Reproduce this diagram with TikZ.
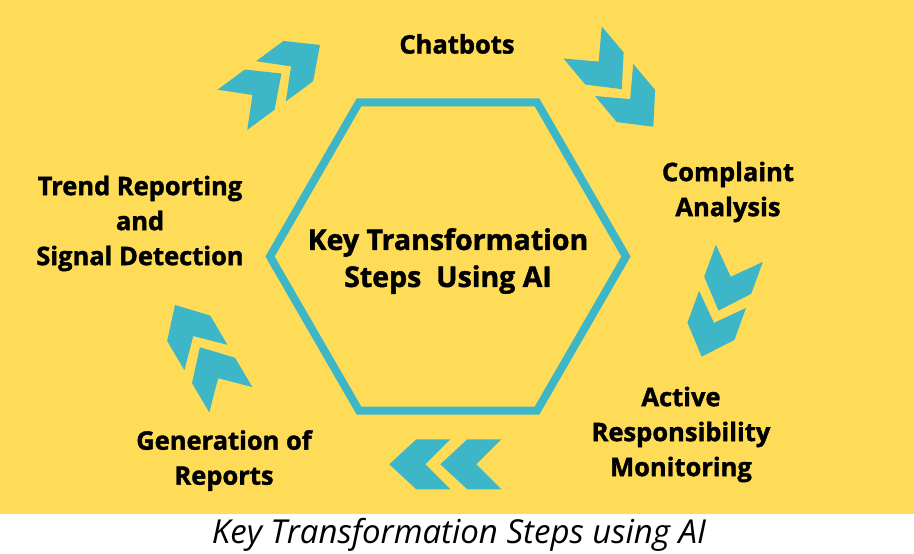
\documentclass[tikz,border=0pt]{standalone}
\usepackage{fontspec}
\setmainfont{Open Sans}
\newfontfamily\xbold{Open Sans}[BoldFeatures={FakeBold=1.5}]
\usepackage{tikz}
\usetikzlibrary{calc}
\definecolor{sunbg}{HTML}{FFDC58}
\definecolor{tealc}{HTML}{3DB6C8}
\tikzset{
  lbl/.style   ={font=\fontsize{25.5}{35}\selectfont\xbold\bfseries,align=center,inner sep=0pt},
  big/.style   ={lbl,font=\fontsize{28.5}{37}\selectfont\xbold\bfseries},
  capt/.style  ={font=\fontsize{33}{38}\selectfont\itshape,inner sep=0pt},
  hexline/.style={draw=tealc,line width=8pt,line join=miter},
  chev/.pic    ={\fill[tealc] (0,0) -- (-27,25) -- (-61,25) -- (-36,0) -- (-61,-25) -- (-27,-25) -- cycle;},
}

\begin{document}
\begin{tikzpicture}[x=1pt,y=1pt]
  \useasboundingbox (0,0) rectangle (914,554);
  \fill[sunbg] (0,40) rectangle (914,554);

  \node[big] (core) at (448,293) {Key Transformation\\Steps\ \ Using AI};
  \draw[hexline] (448,297.5) ++(0:178) -- ++(120:178) -- ++(180:178) -- ++(240:178)
       -- ++(300:178) -- ++(0:178) -- cycle;

  \node[lbl] (chat)  at (457,510) {Chatbots};
  \node[lbl] (compl) at (728,362) {Complaint\\Analysis};
  \node[lbl] (active) at (681,119.5) {Active\\Responsibility\\Monitoring};
  \node[lbl] (report) at (224,93.5) {Generation of\\Reports};
  \node[lbl] (trend) at (140,330.5) {Trend Reporting\\and\\Signal Detection};

  % chevron pairs: leading tip, direction, gap
  \foreach \x/\y/\a/\g in {320/509/36.5/48, 653.3/427.3/-50/49, 701.7/197.3/-110/49,
                           389.3/89.7/180/51, 175/249/120.5/49}{
    \pic[rotate=\a] at (\x,\y) {chev};
    \pic[rotate=\a] at ($(\x,\y)+(\a+180:\g)$) {chev};
  }

  \node[capt] (title) at (459,19) {Key Transformation Steps using AI};
\end{tikzpicture}
\end{document}
